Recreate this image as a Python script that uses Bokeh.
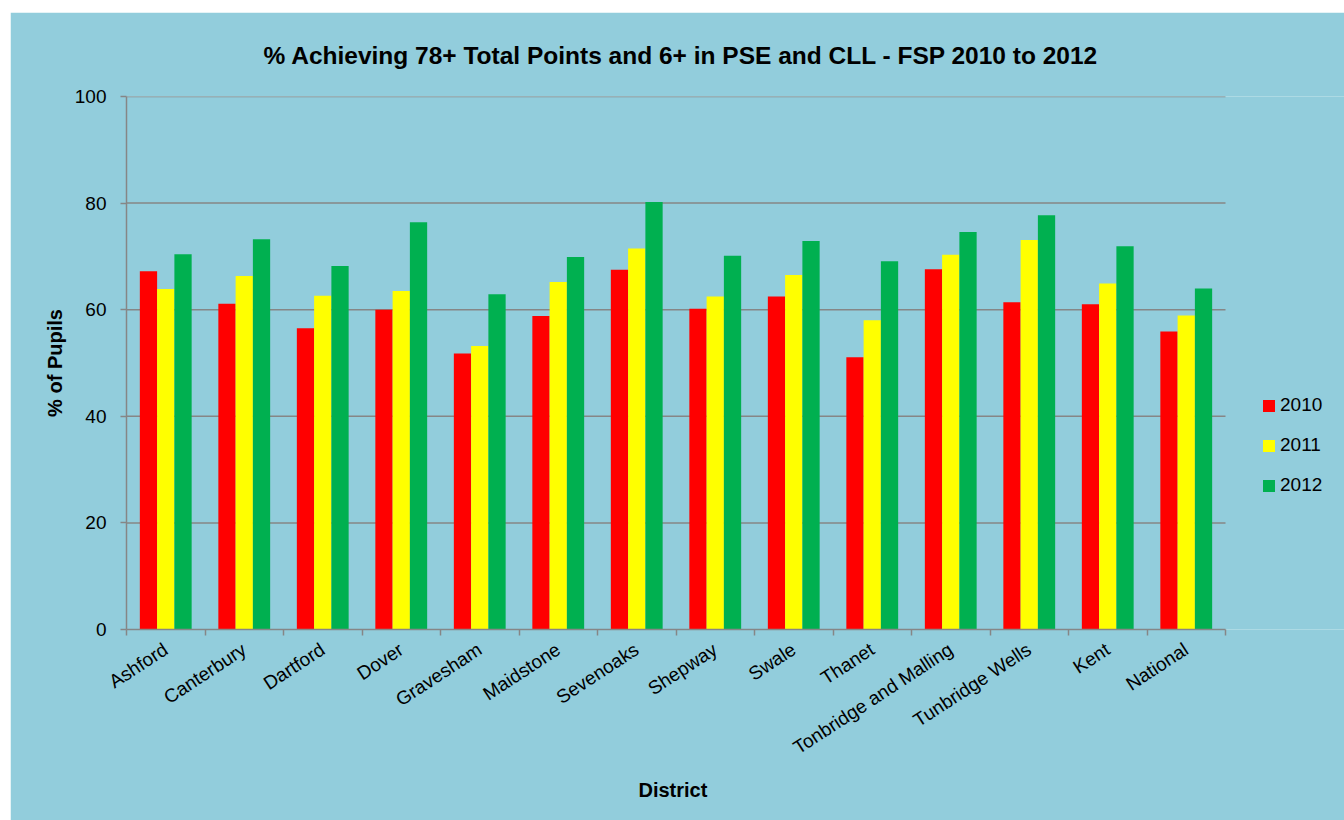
from bokeh.plotting import figure
from bokeh.models import (Range1d, LinearAxis, FixedTicker, Legend,
                          LegendItem, ColumnDataSource, Title)
from bokeh.embed import file_html
from bokeh.resources import INLINE

districts = ["Ashford", "Canterbury", "Dartford", "Dover", "Gravesham", "Maidstone",
             "Sevenoaks", "Shepway", "Swale", "Thanet", "Tonbridge and Malling",
             "Tunbridge Wells", "Kent", "National"]
y2010 = [67.2, 61.1, 56.5, 60.0, 51.8, 58.8, 67.5, 60.2, 62.5, 51.1, 67.6, 61.4, 61.0, 55.9]
y2011 = [63.9, 66.3, 62.6, 63.5, 53.2, 65.2, 71.5, 62.5, 66.5, 58.0, 70.3, 73.1, 64.9, 58.9]
y2012 = [70.4, 73.2, 68.2, 76.4, 62.9, 69.9, 80.2, 70.1, 72.9, 69.1, 74.6, 77.7, 71.9, 64.0]
years = ["2010", "2011", "2012"]
y_ticks = [0, 20, 40, 60, 80, 100]

colors = ["#FF0000", "#FFFF00", "#00B050"]
BG = "#92CDDC"
GRID = "#868686"
FONT = "Liberation Sans"

n = len(districts)
centers = [i + 0.5 for i in range(n)]
w = 0.22
src = ColumnDataSource(dict(
    xc=centers,
    x0=[c - w for c in centers], x1=centers, x2=[c + w for c in centers],
    y2010=y2010, y2011=y2011, y2012=y2012))

# plot area spans the categories plus room on the right for the legend
x_end = n * 1218 / 1099
p = figure(width=1334, height=808, x_range=Range1d(0, x_end), y_range=Range1d(0, 100),
           output_backend="svg", toolbar_location=None,
           title="% Achieving 78+ Total Points and 6+ in PSE and CLL - FSP 2010 to 2012",
           min_border_left=116, min_border_right=0, min_border_top=79, min_border_bottom=191)
p.margin = (12, 0, 0, 10)
p.background_fill_color = BG
p.border_fill_color = BG
p.outline_line_color = None

p.title.align = "left"
p.title.offset = 137
p.title.text_font = FONT
p.title.text_font_size = "24.5px"
p.title.text_font_style = "bold"
p.title.text_color = "#000000"
p.title.standoff = 55

# horizontal grid lines limited to the category area
grid_y = y_ticks[1:]
p.segment(x0=[0] * len(grid_y), x1=[n] * len(grid_y), y0=grid_y, y1=grid_y,
          line_color=GRID, line_width=1.5)

r0 = p.vbar(x="x0", top="y2010", width=w, source=src, fill_color=colors[0], line_color=None)
r1 = p.vbar(x="x1", top="y2011", width=w, source=src, fill_color=colors[1], line_color=None)
r2 = p.vbar(x="x2", top="y2012", width=w, source=src, fill_color=colors[2], line_color=None)

p.xgrid.visible = False
p.ygrid.visible = False

# y axis
ya = p.yaxis[0]
ya.ticker = FixedTicker(ticks=y_ticks)
ya.axis_line_color = GRID
ya.axis_line_width = 1.5
ya.major_tick_line_color = GRID
ya.major_tick_line_width = 1.5
ya.major_tick_out = 6
ya.major_tick_in = 0
ya.minor_tick_line_color = None
ya.major_label_text_font = FONT
ya.major_label_text_font_size = "19px"
ya.major_label_text_color = "#000000"
ya.major_label_standoff = 14
ya.axis_label = "% of Pupils"
ya.axis_label_text_font = FONT
ya.axis_label_text_font_size = "20px"
ya.axis_label_text_font_style = "bold"
ya.axis_label_text_color = "#000000"
ya.axis_label_standoff = 6

# tick-only axis at category boundaries
tick_axis = p.xaxis[0]
tick_axis.ticker = FixedTicker(ticks=list(range(n + 1)))
tick_axis.bounds = (0, n)
tick_axis.axis_line_color = GRID
tick_axis.axis_line_width = 1.5
tick_axis.major_tick_line_color = GRID
tick_axis.major_tick_line_width = 1.5
tick_axis.major_tick_out = 6
tick_axis.major_tick_in = 0
tick_axis.minor_tick_line_color = None
tick_axis.major_label_text_font_size = "0px"
tick_axis.major_label_standoff = 0

# category label axis
xa = LinearAxis(ticker=FixedTicker(ticks=centers),
                major_label_overrides={c: d for c, d in zip(centers, districts)})
xa.bounds = (0, n)
xa.axis_line_color = None
xa.major_tick_line_color = None
xa.minor_tick_line_color = None
xa.major_label_orientation = 0.58
xa.major_label_text_font = FONT
xa.major_label_text_font_size = "19px"
xa.major_label_text_color = "#000000"
xa.major_label_standoff = 6
p.add_layout(xa, "below")

# x-axis title, centred under the category area
x_title = Title(text="District", align="left", offset=512, standoff=14,
                text_font=FONT, text_font_size="20px", text_font_style="bold",
                text_color="#000000")
p.add_layout(x_title, "below")

legend = Legend(items=[LegendItem(label=years[i], renderers=[r]) for i, r in enumerate([r0, r1, r2])],
                location=(1135, 133), orientation="vertical",
                glyph_width=15, glyph_height=15, label_height=21, spacing=18,
                label_standoff=4, padding=0, margin=0,
                background_fill_alpha=0, border_line_color=None,
                label_text_font=FONT, label_text_font_size="19px", label_text_color="#000000")
p.add_layout(legend, "center")

open("out.html", "w").write(file_html(p, INLINE))
